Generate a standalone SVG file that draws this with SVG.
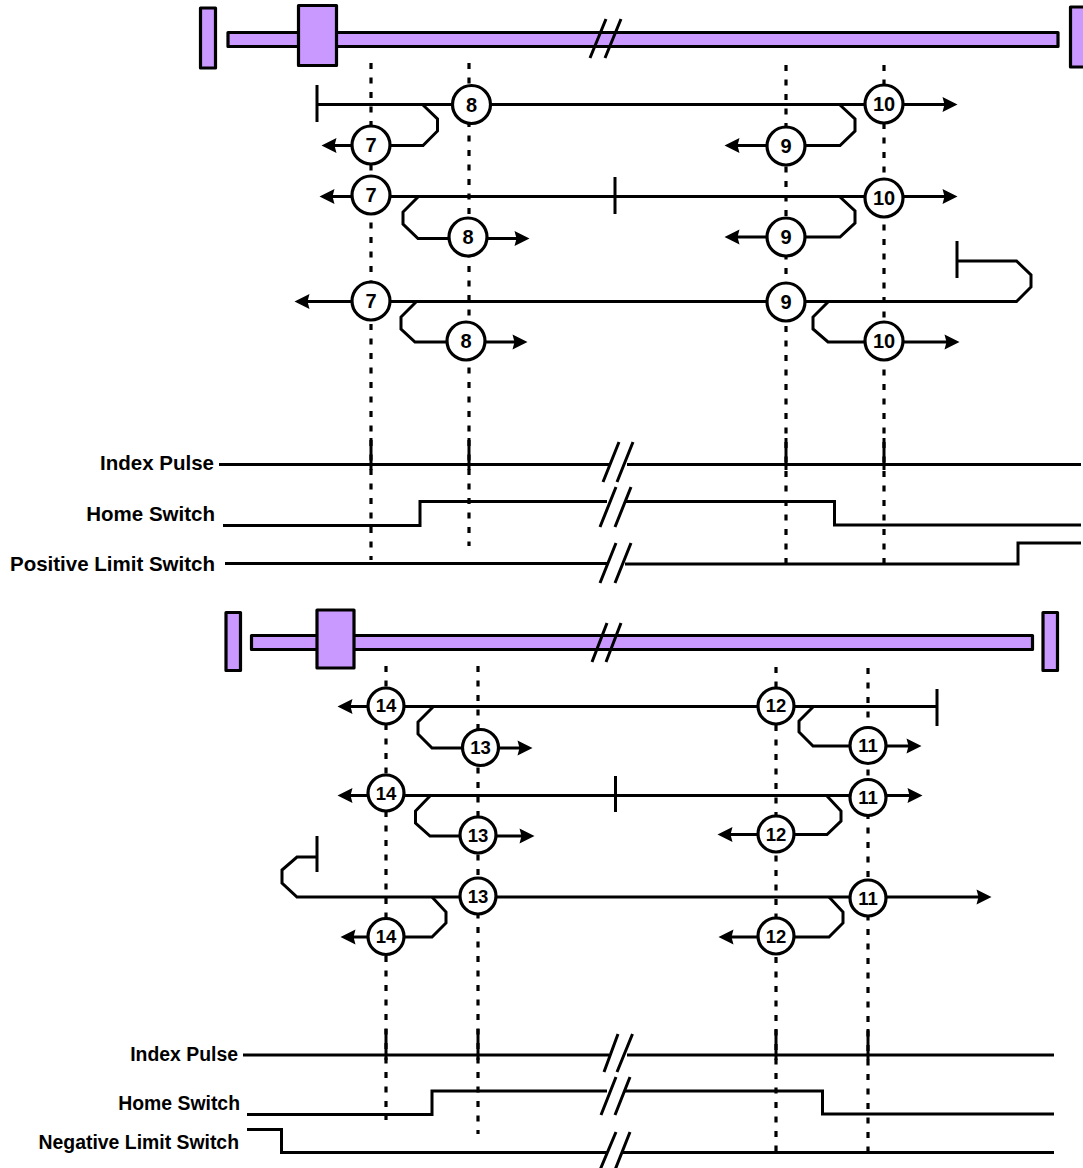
<svg xmlns="http://www.w3.org/2000/svg" width="1083" height="1168" viewBox="0 0 1083 1168">
<style>
.ln{fill:none;stroke:#000;stroke-width:3;stroke-linejoin:miter}
.ar{marker-end:url(#ah)}
.dot{fill:none;stroke:#000;stroke-width:3.2;stroke-dasharray:6 8.5}
.bar{fill:#c999ff;stroke:#000;stroke-width:3.2;stroke-linejoin:round}
.c{fill:#fff;stroke:#000;stroke-width:3.2}
.n{font-family:"Liberation Sans",Arial,sans-serif;font-weight:bold;text-anchor:middle;fill:#000}
.t{font-size:20px}.b{font-size:18.5px}
.lb{font-family:"Liberation Sans",Arial,sans-serif;font-weight:bold;text-anchor:end;fill:#000}
.lt{font-size:20.5px}.lo{font-size:19.4px}
</style>
<defs>
<marker id="ah" markerUnits="userSpaceOnUse" markerWidth="16" markerHeight="16" refX="3" refY="8" orient="auto" viewBox="0 0 16 16"><path d="M0.5,0.5 L15.5,8 L0.5,15.5 L2.5,8 Z" fill="#000"/></marker>
</defs>
<g id="actuator-top">
<rect class="bar" x="200.5" y="8" width="15" height="60"/>
<rect class="bar" x="228" y="32.5" width="830" height="14"/>
<rect class="bar" x="298.5" y="5.5" width="38" height="60"/>
<rect class="bar" x="1070.5" y="7" width="15" height="60"/>
<path class="ln" d="M590,58 L606,19 M605,58 L621,19"/>
</g>
<g id="actuator-bottom">
<rect class="bar" x="226" y="612.5" width="14.5" height="58"/>
<rect class="bar" x="251.5" y="635.5" width="781" height="14"/>
<rect class="bar" x="317" y="610" width="37" height="58"/>
<rect class="bar" x="1043" y="612.5" width="14.5" height="58"/>
<path class="ln" d="M592,662 L607,623 M606,662 L621,623"/>
</g>
<g id="signals">
<path class="ln" d="M219,464.5H609 M627,464.5H1081 M371,438V470 M469,438V470 M786,438V470 M884,438V470"/>
<path class="ln" d="M603,482L619,442 M617,482L633,442"/>
<path class="ln" d="M223,525.5H420V501.5H607 M625,501.5H834.5V525H1081"/>
<path class="ln" d="M600,527L616,487 M615,527L631,487"/>
<path class="ln" d="M225,563.5H607 M625,564H1018V543H1081"/>
<path class="ln" d="M600,583L616,543 M615,583L631,543"/>
<path class="ln" d="M243,1055H609 M627,1055H1054 M386,1029V1060 M478,1029V1060 M776,1029V1060 M868,1029V1060"/>
<path class="ln" d="M604,1072L618,1034 M617,1072L632.5,1034"/>
<path class="ln" d="M247,1114.5H432V1091H607 M625,1091H822.5V1114H1054"/>
<path class="ln" d="M601,1115L616,1077 M615,1115L630,1077"/>
<path class="ln" d="M247,1129.5H281.5V1152.5H607 M623,1152.5H1054"/>
<path class="ln" d="M600,1170L616,1132 M615,1170L630,1132"/>
<text class="lb lt" x="214" y="470">Index Pulse</text>
<text class="lb lt" x="215" y="521">Home Switch</text>
<text class="lb lt" x="215" y="571">Positive Limit Switch</text>
<text class="lb lo" x="238" y="1061">Index Pulse</text>
<text class="lb lo" x="240" y="1110">Home Switch</text>
<text class="lb lo" x="239" y="1149">Negative Limit Switch</text>
</g>
<g id="connectors">
<path class="dot" d="M371,63V560 M469,63V546 M786,65V564 M884,65V564 M386,666V1120 M478,666V1134 M776,667V1152 M868,668V1152"/>
<path class="ln" d="M317,85V122 M615,177V214 M957,241V278 M937,689V726 M615.5,776V812 M317,836V872"/>
<path class="ln ar" d="M317,104.5H945"/>
<path class="ln ar" d="M423,105L437.5,119V131L423,145.5H334"/>
<path class="ln ar" d="M840,105L855,119V131L840,145.5H737"/>
<path class="ln ar" d="M615,196.5H332"/>
<path class="ln ar" d="M615,196.5H945"/>
<path class="ln ar" d="M418,197L403,212V224L418,238.5H517"/>
<path class="ln ar" d="M840,197L855,211V223L840,237H737"/>
<path class="ln ar" d="M957,261H1016.5L1031,275V287L1016.5,301.5H307"/>
<path class="ln ar" d="M416,302L401,317V329L415,342H515"/>
<path class="ln ar" d="M828,302L813,317V329L828,342H947"/>
<path class="ln ar" d="M937,706.5H350"/>
<path class="ln ar" d="M433,707L418,722V734L432,748H520"/>
<path class="ln ar" d="M813,707L799,721V732L813,746H909"/>
<path class="ln ar" d="M615.5,795.5H910"/>
<path class="ln ar" d="M615.5,795.5H350"/>
<path class="ln ar" d="M430,796L415.5,811V823L430,836H522"/>
<path class="ln ar" d="M827,796L841,811V821L827,834.5H730"/>
<path class="ln ar" d="M317,857H297L282,870V883L297,897H979"/>
<path class="ln ar" d="M432,897L446,912V923L432,937H353"/>
<path class="ln ar" d="M829,897L843,912V923L829,937H731"/>
</g>
<g id="n7a"><circle class="c" cx="371" cy="145" r="19"/><text class="n t" x="371" y="152">7</text></g>
<g id="n8a"><circle class="c" cx="471.5" cy="104.5" r="19"/><text class="n t" x="471.5" y="111.5">8</text></g>
<g id="n9a"><circle class="c" cx="786" cy="146" r="19"/><text class="n t" x="786" y="153">9</text></g>
<g id="n10a"><circle class="c" cx="884" cy="104" r="19"/><text class="n t" x="884" y="111">10</text></g>
<g id="n7b"><circle class="c" cx="371" cy="195" r="19"/><text class="n t" x="371" y="201.5">7</text></g>
<g id="n8b"><circle class="c" cx="468" cy="237" r="19"/><text class="n t" x="468" y="243.5">8</text></g>
<g id="n9b"><circle class="c" cx="786" cy="237" r="19"/><text class="n t" x="786" y="243.5">9</text></g>
<g id="n10b"><circle class="c" cx="884" cy="198" r="19"/><text class="n t" x="884" y="205">10</text></g>
<g id="n7c"><circle class="c" cx="371" cy="301" r="19"/><text class="n t" x="371" y="308">7</text></g>
<g id="n8c"><circle class="c" cx="466" cy="341" r="19"/><text class="n t" x="466" y="347.5">8</text></g>
<g id="n9c"><circle class="c" cx="786" cy="302" r="19"/><text class="n t" x="786" y="308.5">9</text></g>
<g id="n10c"><circle class="c" cx="884" cy="341" r="19"/><text class="n t" x="884" y="347.5">10</text></g>
<g id="n14a"><circle class="c" cx="386" cy="706" r="18"/><text class="n b" x="386" y="712">14</text></g>
<g id="n13a"><circle class="c" cx="480.5" cy="747.5" r="18"/><text class="n b" x="480.5" y="754">13</text></g>
<g id="n12a"><circle class="c" cx="776" cy="706" r="18"/><text class="n b" x="776" y="712">12</text></g>
<g id="n11a"><circle class="c" cx="868" cy="745.5" r="18"/><text class="n b" x="868" y="752">11</text></g>
<g id="n14b"><circle class="c" cx="386" cy="793" r="18"/><text class="n b" x="386" y="799.5">14</text></g>
<g id="n13b"><circle class="c" cx="478" cy="835" r="18"/><text class="n b" x="478" y="841.5">13</text></g>
<g id="n12b"><circle class="c" cx="776" cy="834" r="18"/><text class="n b" x="776" y="840.5">12</text></g>
<g id="n11b"><circle class="c" cx="868" cy="797.5" r="18"/><text class="n b" x="868" y="804">11</text></g>
<g id="n14c"><circle class="c" cx="386" cy="936.5" r="18"/><text class="n b" x="386" y="943">14</text></g>
<g id="n13c"><circle class="c" cx="478" cy="896" r="18"/><text class="n b" x="478" y="902.5">13</text></g>
<g id="n12c"><circle class="c" cx="776" cy="936" r="18"/><text class="n b" x="776" y="942.5">12</text></g>
<g id="n11c"><circle class="c" cx="868" cy="898" r="18"/><text class="n b" x="868" y="904.5">11</text></g>
</svg>
